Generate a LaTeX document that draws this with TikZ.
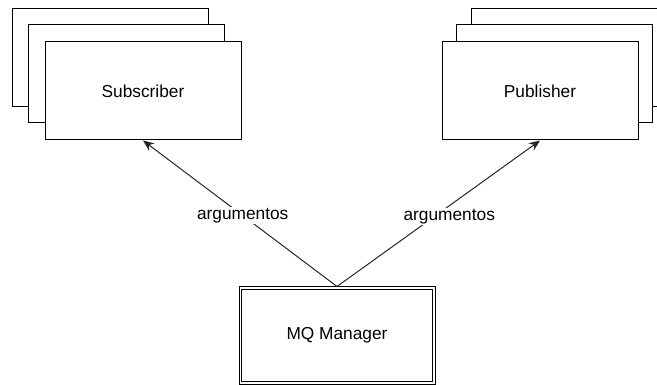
\documentclass[tikz,border=0pt]{standalone}
\usepackage{fontspec}
\setmainfont{Liberation Sans}
\usetikzlibrary{arrows.meta}
\begin{document}
\begin{tikzpicture}[x=1pt,y=-1pt,
  box/.style={draw=black,line width=1pt,fill=white,minimum width=196pt,minimum height=98pt,inner sep=0pt,font=\fontsize{17.3}{20}\selectfont},
  conn/.style={draw=black!85,line width=1pt,-{Stealth[length=11pt,width=9pt]}},
  lbl/.style={fill=white,inner sep=1.5pt,font=\fontsize{17.3}{20}\selectfont}]
\useasboundingbox (0,0) rectangle (657,385);
\fill[white] (0,0) rectangle (657,385);
% Subscriber stack
\node[box] (s3) at (110,58) {};
\node[box] (s2) at (126.5,74) {};
\node[box] (sub) at (143,91) {Subscriber};
% Publisher stack
\node[box] (p3) at (569,58) {};
\node[box] (p2) at (554.5,74) {};
\node[box] (pub) at (540,91) {Publisher};
% MQ Manager
\node[box,minimum height=97pt] (mq) at (337,335.5) {MQ Manager};
\draw[line width=1pt] ([shift={(3pt,3pt)}]mq.south west) rectangle ([shift={(-3pt,-3pt)}]mq.north east);
% connectors
\draw[conn] (mq.north) -- node[lbl,pos=0.486] {argumentos} (sub.south);
\draw[conn] (mq.north) -- node[lbl,pos=0.479,xshift=15pt] {argumentos} (pub.south);
\end{tikzpicture}
\end{document}
